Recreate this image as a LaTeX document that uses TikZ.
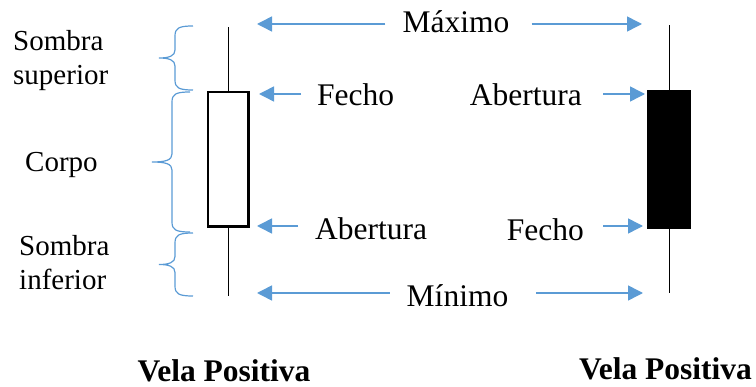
\documentclass[tikz,border=0pt]{standalone}
\usepackage{fontspec}
\setmainfont{Liberation Serif}
\usetikzlibrary{arrows.meta}
\definecolor{guide}{RGB}{91,155,213}
\newcommand{\candlebrace}[4]{% spine x, top y, bottom y, tip x
  \draw[bracel] ({#1+18},#2) .. controls ({#1+4},#2) and (#1,{#2+2}) .. (#1,{#2+10})
    -- (#1,{(#2+#3)/2-8}) .. controls (#1,{(#2+#3)/2-2}) and ({#1-6},{(#2+#3)/2}) .. (#4,{(#2+#3)/2})
    .. controls ({#1-6},{(#2+#3)/2}) and (#1,{(#2+#3)/2+2}) .. (#1,{(#2+#3)/2+8})
    -- (#1,{#3-10}) .. controls (#1,{#3-2}) and ({#1+4},#3) .. ({#1+18},#3);}
\begin{document}
\begin{tikzpicture}[x=1pt,y=-1pt,
  arr/.style={draw=guide,line width=1.5pt,-{Triangle[length=15pt,width=15pt]}},
  bracel/.style={draw=guide,line width=1.2pt},
  wick/.style={draw=black,line width=1pt},
  lbl/.style={inner sep=0pt,font=\fontsize{31.5}{36}\selectfont},
  side/.style={inner sep=0pt,align=left,font=\fontsize{29}{34}\selectfont},
  title/.style={inner sep=0pt,font=\fontsize{31.5}{36}\selectfont\bfseries}]
\useasboundingbox (0,0) rectangle (756,387);

% candle bodies
\node[draw=black,line width=2.5pt,fill=white,minimum width=40.5pt,minimum height=134.5pt,inner sep=0pt,outer sep=0pt] (bodyL) at (228,159.4) {};
\node[fill=black,minimum width=44.6pt,minimum height=139pt,inner sep=0pt,outer sep=0pt] (bodyR) at (669,159.5) {};

% wick ends
\coordinate (hiL) at (228,27);
\coordinate (loL) at (228,296);
\coordinate (hiR) at (669,25);
\coordinate (loR) at (669,293);
\draw[wick] (bodyL.north) -- (hiL);
\draw[wick] (bodyL.south) -- (loL);
\draw[wick] (bodyR.north) -- (hiR);
\draw[wick] (bodyR.south) -- (loR);

% arrow targets
\coordinate (maxL) at (257,24);
\coordinate (maxR) at (642,24);
\coordinate (minL) at (257,293);
\coordinate (minR) at (643,293);
\coordinate (closeL) at (259,94);
\coordinate (openL) at (257,226);
\coordinate (openR) at (645,94);
\coordinate (closeR) at (643,226);

% price labels
\node[lbl,anchor=base] (max) at (456,33) {Máximo};
\node[lbl,anchor=base] (min) at (457.5,306.7) {Mínimo};
\node[lbl,anchor=base west] (fL) at (317,106) {Fecho};
\node[lbl,anchor=base west] (aL) at (315,240) {Abertura};
\node[lbl,anchor=base east] (aR) at (582,106) {Abertura};
\node[lbl,anchor=base east] (fR) at (584,240.5) {Fecho};

\draw[arr] ([xshift=-17pt]max.west |- maxL) -- (maxL);
\draw[arr] ([xshift=22pt]max.east |- maxR) -- (maxR);
\draw[arr] ([xshift=-17pt]min.west |- minL) -- (minL);
\draw[arr] ([xshift=28pt]min.east |- minR) -- (minR);
\draw[arr] ([xshift=-16pt]fL.west |- closeL) -- (closeL);
\draw[arr] ([xshift=-17pt]aL.west |- openL) -- (openL);
\draw[arr] ([xshift=21pt]aR.east |- openR) -- (openR);
\draw[arr] ([xshift=19pt]fR.east |- closeR) -- (closeR);

% part braces
\candlebrace{175}{26}{90}{159}
\candlebrace{172}{92}{232}{152}
\candlebrace{175}{233}{296}{159}

\node[side,anchor=base west] (sup) at (13,85) {Sombra\\superior};
\node[side,anchor=base west] (corpo) at (25,171.7) {Corpo};
\node[side,anchor=base west] (inf) at (19,290) {Sombra\\inferior};

% captions
\node[title,anchor=base] (capL) at (224,381.5) {Vela Positiva};
\node[title,anchor=base] (capR) at (665.5,379.5) {Vela Positiva};
\end{tikzpicture}
\end{document}
